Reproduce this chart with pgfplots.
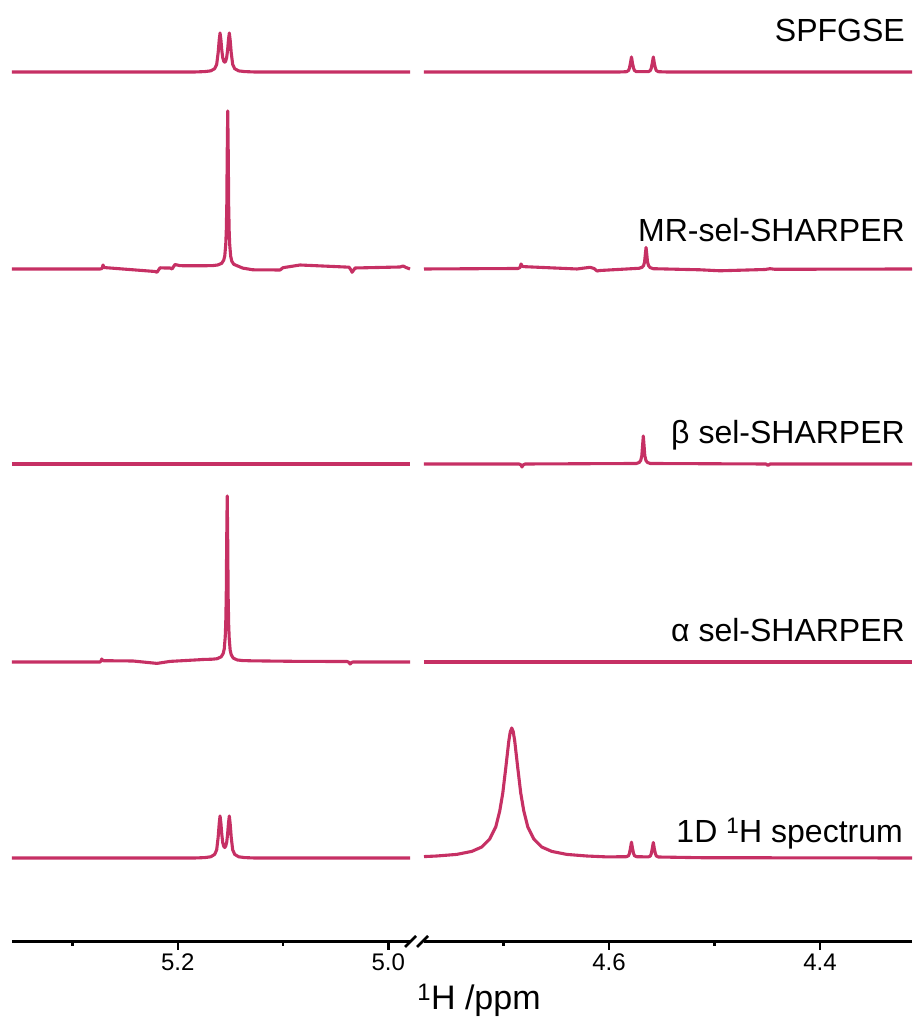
\documentclass[border=0pt]{standalone}
\usepackage{fontspec}
\setmainfont{Liberation Sans}
\usepackage{pgfplots}
\pgfplotsset{compat=1.18}
\definecolor{spec}{RGB}{198,48,100}
\pgfplotsset{
  specaxis/.style={
    scale only axis, height=942pt, ymin=75, ymax=1017, x dir=reverse,
    hide y axis, axis x line*=bottom, clip=false, anchor=south west,
    x axis line style={line width=3pt, black},
    tick align=outside,
    major tick length=8pt, minor tick length=4pt,
    every tick/.style={black, line width=2.4pt},
    xticklabel style={font=\fontsize{24}{28}\selectfont, text=black},
  },
  sp/.style={spec, line width=3.1pt, line join=round, no marks},
}
\begin{document}
\begin{tikzpicture}[x=1pt,y=1pt]
\useasboundingbox (0,0) rectangle (915,1017);
% ---------------- left segment ----------------
\begin{axis}[specaxis, at={(12pt,75pt)}, width=398pt,
  xmin=4.9794, xmax=5.3574, xtick={5.0,5.2}, xticklabels={5.0,5.2},
  minor xtick={5.1,5.3}]
% SPFGSE
\addplot[sp, y filter/.expression={y+945}] coordinates {
(5.3574,0)(5.1839,0)(5.1744,0.4)(5.1687,1.1)(5.1649,3.3)(5.1630,7.6)(5.1616,19.3)(5.1606,32)(5.1598,39)(5.1590,32.4)(5.1582,22.4)(5.1573,14.5)(5.1563,10.8)(5.1554,9.8)(5.1545,10.8)(5.1535,14.5)(5.1526,22.4)(5.1518,32.4)(5.1510,39)(5.1502,32)(5.1492,19.3)(5.1478,7.6)(5.1459,3.3)(5.1421,1.1)(5.1364,0.4)(5.1269,0)(4.9794,0)};
% MR-sel-SHARPER
\addplot[sp, y filter/.expression={y+748}] coordinates {
(5.3574,0)(5.2738,0)(5.2719,0.5)(5.2709,4)(5.2700,1.5)(5.2681,1.3)(5.2216,-2.5)(5.2197,-3.3)(5.2168,1.2)(5.2121,1)(5.2073,1)(5.2054,0)(5.2026,4.5)(5.1978,3.3)(5.1762,3.2)(5.1667,3.4)(5.1620,4)(5.1582,5.7)(5.1563,8.9)(5.1553,13.3)(5.1544,24.4)(5.1539,37.3)(5.1534,63.5)(5.1530,114.5)(5.1525,158)(5.1520,114)(5.1516,63)(5.1511,36.8)(5.1506,23.9)(5.1497,12.8)(5.1487,7.9)(5.1468,4.7)(5.1430,3)(5.1383,0.9)(5.1287,-0.8)(5.1028,-1)(5.1000,1.3)(5.0838,4)(5.0373,1.8)(5.0354,-1)(5.0344,-3.3)(5.0325,-0.5)(5.0316,1)(4.9889,2)(4.9860,3)(4.9832,1.5)(4.9794,0)};
% beta sel-SHARPER
\addplot[sp, y filter/.expression={y+553}] coordinates {
(5.3574,0)(4.9794,0)};
% alpha sel-SHARPER
\addplot[sp, y filter/.expression={y+355}] coordinates {
(5.3574,0)(5.2738,0)(5.2728,1)(5.2722,3)(5.2709,1.3)(5.2425,1)(5.2197,-1.4)(5.2073,0.6)(5.1788,2.3)(5.1767,2.5)(5.1672,2.8)(5.1625,3.3)(5.1587,5.2)(5.1568,8.6)(5.1558,13.2)(5.1549,24.9)(5.1544,38.5)(5.1539,66.3)(5.1535,120.2)(5.1530,166)(5.1525,119)(5.1521,65)(5.1516,37.2)(5.1511,23.6)(5.1502,11.9)(5.1492,7.3)(5.1473,3.9)(5.1435,2.05)(5.1388,1.46)(5.1293,1.16)(5.0838,0.6)(5.0392,0.5)(5.0373,-0.5)(5.0363,-2)(5.0349,-0.5)(5.0335,0)(4.9794,0)};
% 1D 1H
\addplot[sp, y filter/.expression={y+159}] coordinates {
(5.3574,0)(5.1839,0)(5.1744,0.4)(5.1687,1.2)(5.1649,3.6)(5.1630,8.2)(5.1616,20.8)(5.1606,34.4)(5.1598,42)(5.1590,34.9)(5.1582,24.2)(5.1573,15.6)(5.1563,11.7)(5.1554,10.5)(5.1545,11.7)(5.1535,15.6)(5.1526,24.2)(5.1518,34.9)(5.1510,42)(5.1502,34.4)(5.1492,20.8)(5.1478,8.2)(5.1459,3.6)(5.1421,1.2)(5.1364,0.4)(5.1269,0)(4.9794,0)};
\end{axis}
% ---------------- right segment ----------------
\begin{axis}[specaxis, at={(424pt,75pt)}, width=488pt,
  xmin=4.3128, xmax=4.7754, xtick={4.4,4.6}, xticklabels={4.4,4.6},
  minor xtick={4.5,4.7}]
% SPFGSE
\addplot[sp, y filter/.expression={y+945}] coordinates {
(4.7754,0)(4.5900,0)(4.5834,0.3)(4.5815,1.5)(4.5806,4)(4.5797,9)(4.5787,15)(4.5778,9)(4.5768,4)(4.5759,1.5)(4.5740,0.3)(4.5627,0.3)(4.5608,1.5)(4.5599,4)(4.5590,9)(4.5580,15)(4.5571,9)(4.5561,4)(4.5552,1.5)(4.5533,0.3)(4.5450,0)(4.3128,0)};
% MR-sel-SHARPER
\addplot[sp, y filter/.expression={y+748}] coordinates {
(4.7754,0)(4.6863,0.5)(4.6844,1.5)(4.6834,5)(4.6825,3)(4.6815,2.5)(4.6796,2.3)(4.6303,0)(4.6180,1.7)(4.6142,0.5)(4.6114,-2)(4.6085,-1.5)(4.5716,0.7)(4.5687,1.7)(4.5673,3.3)(4.5663,7)(4.5656,14.5)(4.5649,21.5)(4.5642,14.5)(4.5635,7)(4.5625,3.3)(4.5611,1.5)(4.5583,0.3)(4.5137,-0.8)(4.4948,-1.8)(4.4521,-0.5)(4.4474,0.3)(4.4427,-0.3)(4.3128,0)};
% beta sel-SHARPER
\addplot[sp, y filter/.expression={y+553}] coordinates {
(4.7754,0)(4.6853,0)(4.6834,-1)(4.6825,-3)(4.6815,-1)(4.6796,0)(4.5741,0.5)(4.5713,1.6)(4.5699,3.7)(4.5689,8.5)(4.5682,18.5)(4.5675,28)(4.5668,18.5)(4.5661,8.5)(4.5651,3.7)(4.5637,1.6)(4.5609,0.5)(4.4512,0)(4.4493,-1.5)(4.4474,0)(4.3128,0)};
% alpha sel-SHARPER
\addplot[sp, y filter/.expression={y+355}] coordinates {
(4.7754,0)(4.3128,0)};
% 1D 1H
\addplot[sp, y filter/.expression={y+159}] coordinates {
(4.7754,1.4)(4.7633,2.0)(4.7443,3.6)(4.7301,6.6)(4.7206,11)(4.7131,19)(4.7074,31)(4.7036,47)(4.7007,65)(4.6979,90)(4.6950,117)(4.6936,126.2)(4.6922,130)(4.6908,126.2)(4.6894,117)(4.6865,90)(4.6837,65)(4.6808,47)(4.6770,31)(4.6713,19)(4.6638,11)(4.6543,6.6)(4.6401,3.6)(4.6211,2.0)(4.6022,1.1)(4.5834,1.3)(4.5815,2.3)(4.5806,4.8)(4.5797,9.8)(4.5787,15.8)(4.5778,9.8)(4.5768,4.8)(4.5759,2.3)(4.5740,1.3)(4.5627,1.1)(4.5608,2)(4.5599,4.5)(4.5590,9.5)(4.5580,15.5)(4.5571,9.5)(4.5561,4.5)(4.5552,2)(4.5533,1.0)(4.5137,0.3)(4.3128,0)};
\end{axis}
% axis break marks
\draw[line width=2.5pt, black] (405,70)--(416,81) (417,70)--(428,81);
% trace labels
\begin{scope}[every node/.style={anchor=base east, inner sep=0pt, font=\fontsize{32}{38}\selectfont}]
\node at (905,975) {SPFGSE};
\node at (905,775) {MR-sel-SHARPER};
\node at (905,573) {β sel-SHARPER};
\node at (905,375) {α sel-SHARPER};
\node at (903,174) {1D \textsuperscript{1}H spectrum};
\end{scope}
\node[anchor=base, inner sep=0pt, font=\fontsize{34}{40}\selectfont] at (479,7) {\textsuperscript{1}H /ppm};
\end{tikzpicture}
\end{document}
